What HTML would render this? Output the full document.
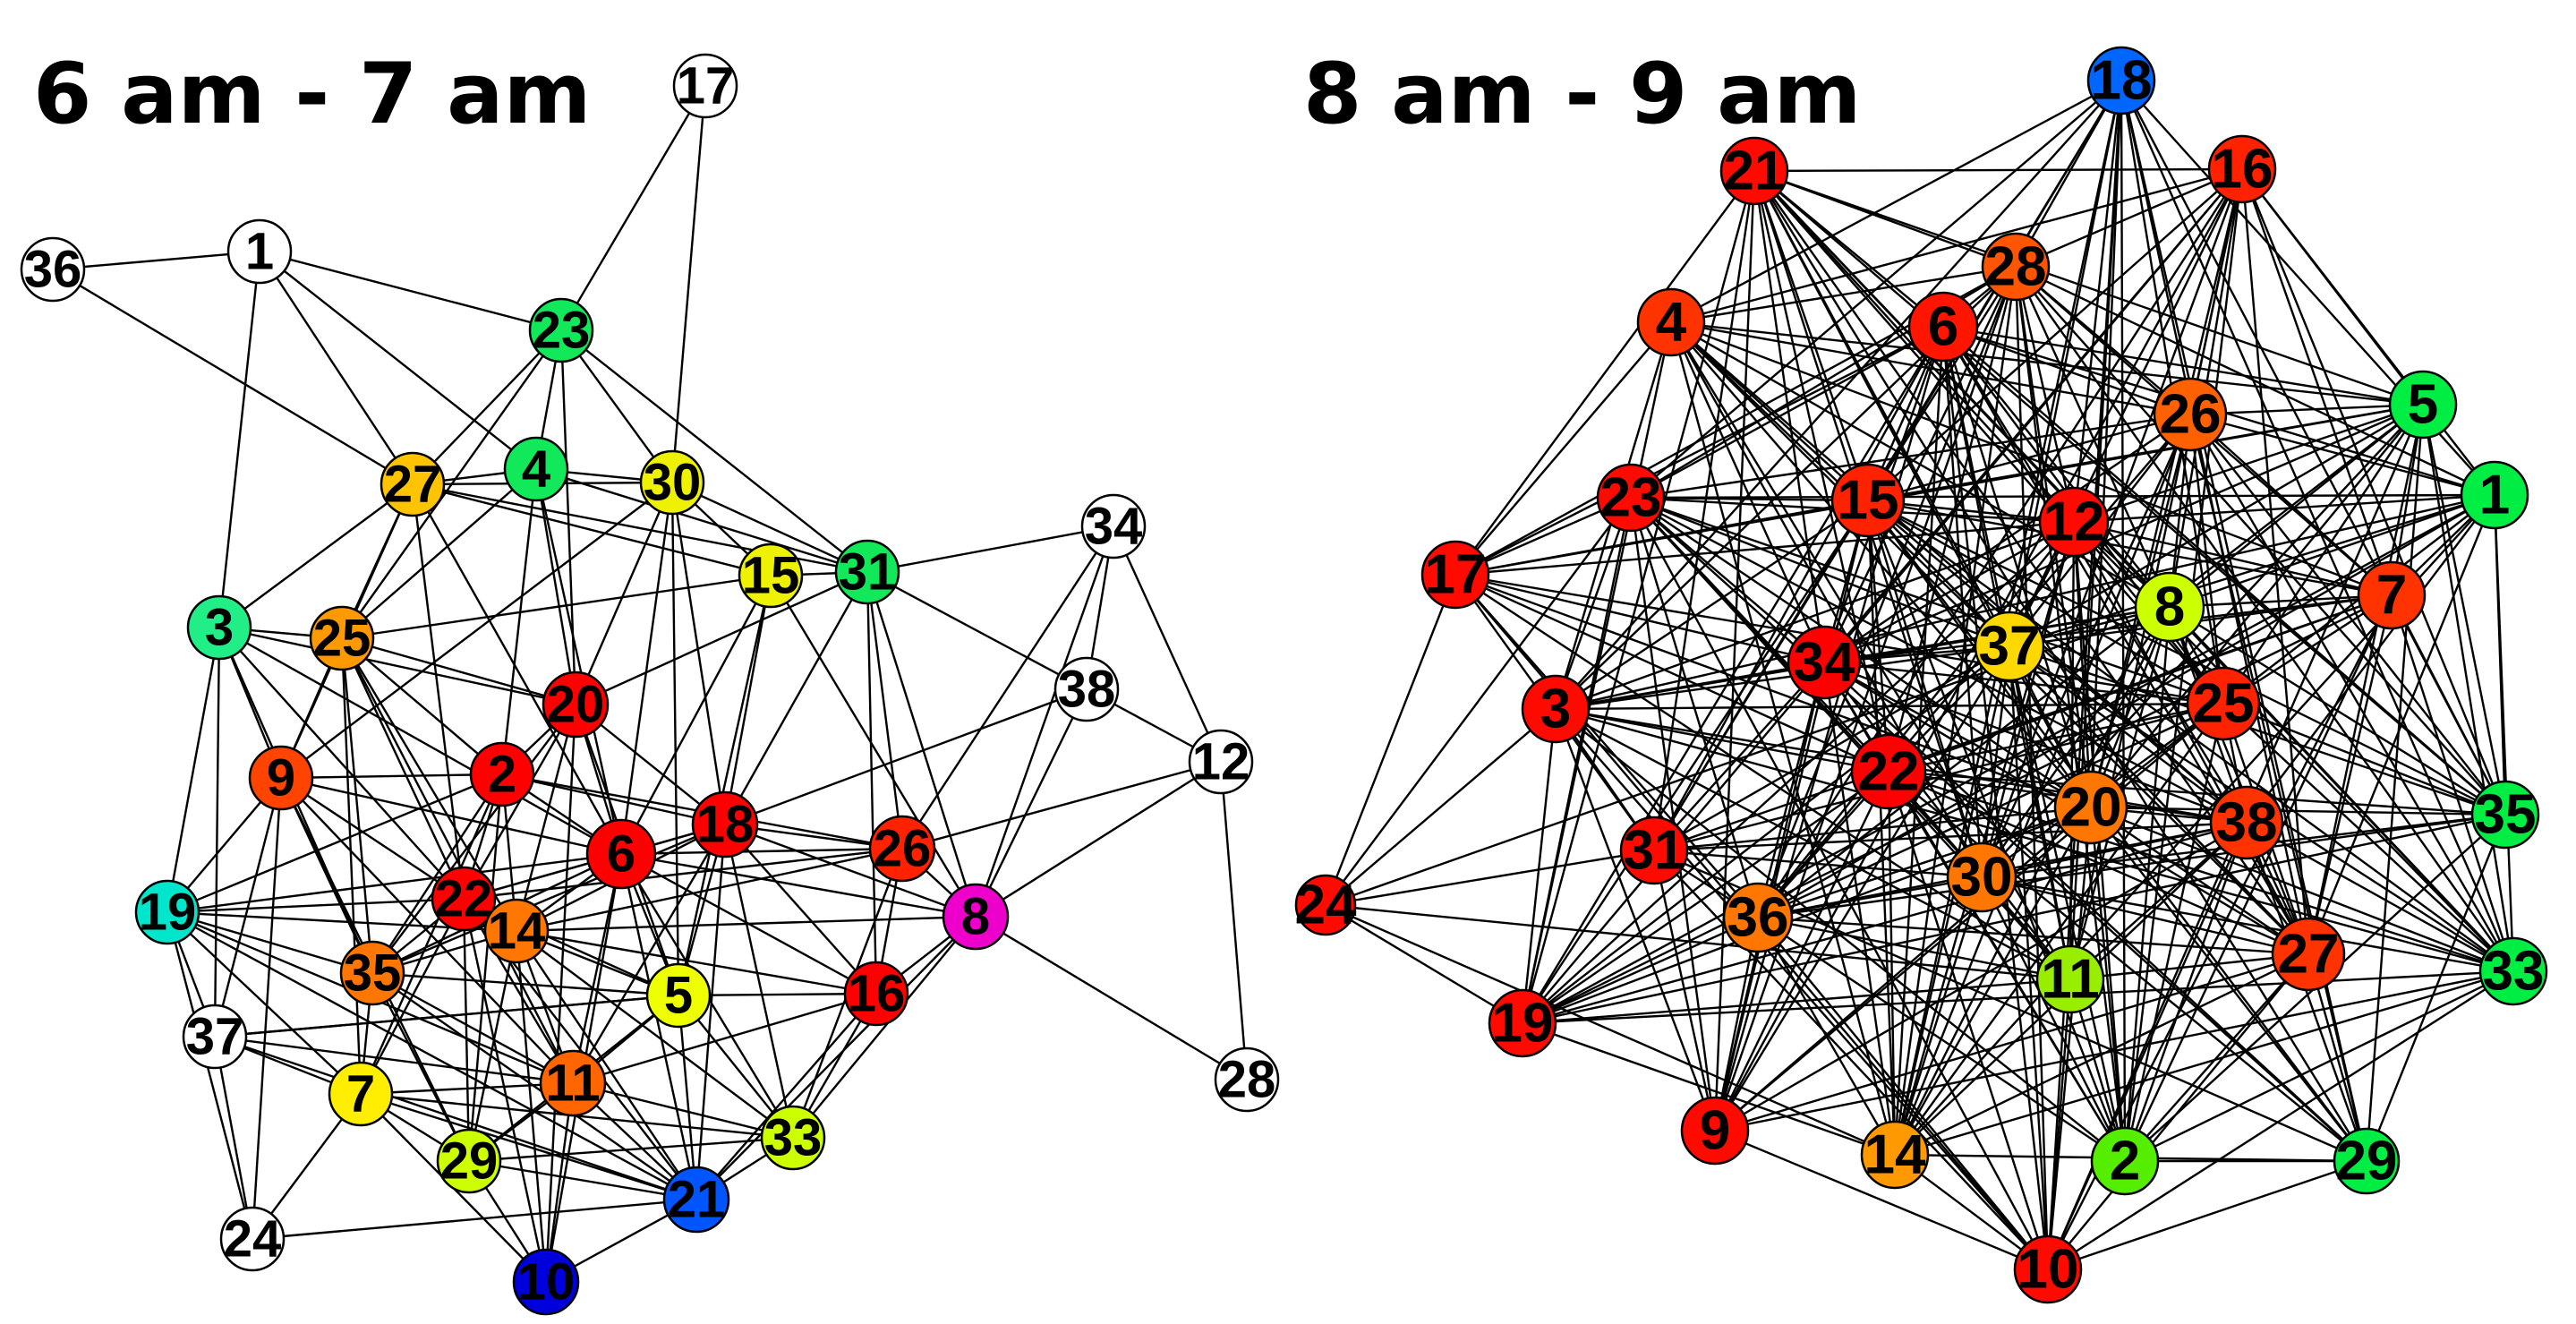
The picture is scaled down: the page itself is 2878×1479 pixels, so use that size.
<!DOCTYPE html>
<html><head><meta charset="utf-8"><style>
html,body{margin:0;padding:0;background:#fff;}
svg{display:block;}
.t{font-family:"DejaVu Sans","Liberation Sans",sans-serif;font-weight:bold;font-size:94px;fill:#000;}
.n text{font-family:"Liberation Sans",sans-serif;font-weight:bold;fill:#000;text-anchor:middle;dominant-baseline:central;}
.L text{font-size:58px;}
.R text{font-size:62px;}
.n circle{stroke:#000;stroke-width:2.5;}
</style></head><body>
<svg id="s" width="2878" height="1479" viewBox="0 0 2878 1479" xmlns="http://www.w3.org/2000/svg">
<rect width="2878" height="1479" fill="#fff"/>
<text class="t" x="37" y="137">6 am - 7 am</text>
<text class="t" x="1456" y="137">8 am - 9 am</text>
<g id="edges" stroke="#000" stroke-width="2.4"></g>
<g class="n L" id="left">
<g transform="translate(788,96)"><circle r="35" fill="#fff"/><text>17</text></g>
<g transform="translate(59,301)"><circle r="35" fill="#fff"/><text>36</text></g>
<g transform="translate(290,281)"><circle r="35" fill="#fff"/><text>1</text></g>
<g transform="translate(627,369)"><circle r="35" fill="#11e85a"/><text>23</text></g>
<g transform="translate(461,541)"><circle r="35" fill="#ffc400"/><text>27</text></g>
<g transform="translate(599,524)"><circle r="35" fill="#11e85a"/><text>4</text></g>
<g transform="translate(751,539)"><circle r="35" fill="#eef200"/><text>30</text></g>
<g transform="translate(861,643)"><circle r="35" fill="#eef200"/><text>15</text></g>
<g transform="translate(969,639)"><circle r="35" fill="#11e85a"/><text>31</text></g>
<g transform="translate(1244,588)"><circle r="35" fill="#fff"/><text>34</text></g>
<g transform="translate(245,701)"><circle r="35" fill="#22ee88"/><text>3</text></g>
<g transform="translate(382,713)"><circle r="35" fill="#ff9900"/><text>25</text></g>
<g transform="translate(1214,770)"><circle r="35" fill="#fff"/><text>38</text></g>
<g transform="translate(643,787)"><circle r="36" fill="#ff0000"/><text>20</text></g>
<g transform="translate(314,869)"><circle r="35" fill="#ff4400"/><text>9</text></g>
<g transform="translate(561,865)"><circle r="35" fill="#ff0000"/><text>2</text></g>
<g transform="translate(1364,851)"><circle r="35" fill="#fff"/><text>12</text></g>
<g transform="translate(810,921)"><circle r="36" fill="#ff0000"/><text>18</text></g>
<g transform="translate(694,954)"><circle r="38" fill="#ff0000"/><text>6</text></g>
<g transform="translate(1008,948)"><circle r="36" fill="#ff2200"/><text>26</text></g>
<g transform="translate(1090,1024)"><circle r="36" fill="#ee00cc"/><text>8</text></g>
<g transform="translate(187,1019)"><circle r="35" fill="#00e6cc"/><text>19</text></g>
<g transform="translate(518,1004)"><circle r="35" fill="#ff0000"/><text>22</text></g>
<g transform="translate(577,1040)"><circle r="35" fill="#ff7700"/><text>14</text></g>
<g transform="translate(416,1087)"><circle r="35" fill="#ff7700"/><text>35</text></g>
<g transform="translate(758,1112)"><circle r="35" fill="#eeff00"/><text>5</text></g>
<g transform="translate(979,1110)"><circle r="35" fill="#ff0000"/><text>16</text></g>
<g transform="translate(240,1158)"><circle r="35" fill="#fff"/><text>37</text></g>
<g transform="translate(1393,1206)"><circle r="35" fill="#fff"/><text>28</text></g>
<g transform="translate(403,1222)"><circle r="35" fill="#ffee00"/><text>7</text></g>
<g transform="translate(640,1210)"><circle r="36" fill="#ff6600"/><text>11</text></g>
<g transform="translate(886,1271)"><circle r="35" fill="#ccff00"/><text>33</text></g>
<g transform="translate(524,1297)"><circle r="35" fill="#ccff00"/><text>29</text></g>
<g transform="translate(778,1340)"><circle r="36" fill="#0055ff"/><text>21</text></g>
<g transform="translate(282,1384)"><circle r="35" fill="#fff"/><text>24</text></g>
<g transform="translate(610,1432)"><circle r="36" fill="#0000dd"/><text>10</text></g>
</g>
<g class="n R" id="right">
<g transform="translate(2370,90)"><circle r="37" fill="#0066ff"/><text>18</text></g>
<g transform="translate(1960,191)"><circle r="37" fill="#ff0a00"/><text>21</text></g>
<g transform="translate(2505,189)"><circle r="37" fill="#ff2200"/><text>16</text></g>
<g transform="translate(2252,298)"><circle r="37" fill="#ff5500"/><text>28</text></g>
<g transform="translate(1867,360)"><circle r="37" fill="#ff3300"/><text>4</text></g>
<g transform="translate(2171,365)"><circle r="38" fill="#ff1500"/><text>6</text></g>
<g transform="translate(2447,463)"><circle r="40" fill="#ff6000"/><text>26</text></g>
<g transform="translate(2707,452)"><circle r="37" fill="#00ee44"/><text>5</text></g>
<g transform="translate(2787,553)"><circle r="37" fill="#00ee44"/><text>1</text></g>
<g transform="translate(1822,556)"><circle r="37" fill="#ff0a00"/><text>23</text></g>
<g transform="translate(2087,559)"><circle r="40" fill="#ff2200"/><text>15</text></g>
<g transform="translate(2317,583)"><circle r="38" fill="#ff0a00"/><text>12</text></g>
<g transform="translate(1626,642)"><circle r="37" fill="#ff0a00"/><text>17</text></g>
<g transform="translate(2672,665)"><circle r="37" fill="#ff3300"/><text>7</text></g>
<g transform="translate(2424,678)"><circle r="38" fill="#ccff00"/><text>8</text></g>
<g transform="translate(2245,722)"><circle r="38" fill="#ffd800"/><text>37</text></g>
<g transform="translate(2038,740)"><circle r="40" fill="#ff0000"/><text>34</text></g>
<g transform="translate(1738,792)"><circle r="37" fill="#ff0a00"/><text>3</text></g>
<g transform="translate(2484,786)"><circle r="40" fill="#ff2200"/><text>25</text></g>
<g transform="translate(2110,862)"><circle r="41" fill="#ff0000"/><text>22</text></g>
<g transform="translate(2336,902)"><circle r="40" fill="#ff7700"/><text>20</text></g>
<g transform="translate(2510,919)"><circle r="40" fill="#ff3300"/><text>38</text></g>
<g transform="translate(2799,910)"><circle r="37" fill="#00ee44"/><text>35</text></g>
<g transform="translate(1848,950)"><circle r="37" fill="#ff0a00"/><text>31</text></g>
<g transform="translate(2214,980)"><circle r="38" fill="#ff7700"/><text>30</text></g>
<g transform="translate(1481,1011)"><circle r="33" fill="#ff0a00"/><text>24</text></g>
<g transform="translate(1964,1025)"><circle r="38" fill="#ff7700"/><text>36</text></g>
<g transform="translate(2579,1066)"><circle r="40" fill="#ff3300"/><text>27</text></g>
<g transform="translate(2313,1094)"><circle r="37" fill="#99ee00"/><text>11</text></g>
<g transform="translate(2808,1085)"><circle r="37" fill="#00ee44"/><text>33</text></g>
<g transform="translate(1701,1143)"><circle r="37" fill="#ff0a00"/><text>19</text></g>
<g transform="translate(1916,1263)"><circle r="37" fill="#ff0a00"/><text>9</text></g>
<g transform="translate(2117,1290)"><circle r="37" fill="#ff9900"/><text>14</text></g>
<g transform="translate(2374,1297)"><circle r="37" fill="#55ee00"/><text>2</text></g>
<g transform="translate(2644,1297)"><circle r="36" fill="#00ee44"/><text>29</text></g>
<g transform="translate(2288,1418)"><circle r="37" fill="#ff0a00"/><text>10</text></g>
</g>
</svg>
<script>
(function(){
function pos(id){
  var g=document.getElementById(id).children,m={};
  for(var i=0;i<g.length;i++){
    var t=g[i].getAttribute('transform').match(/translate\(([\d.]+),([\d.]+)\)/);
    m[g[i].querySelector('text').textContent]=[+t[1],+t[2]];
  }
  return m;
}
var L=pos('left'),R=pos('right'),E=document.getElementById('edges'),NS='http://www.w3.org/2000/svg';
function line(a,b){
  var l=document.createElementNS(NS,'line');
  l.setAttribute('x1',a[0]);l.setAttribute('y1',a[1]);
  l.setAttribute('x2',b[0]);l.setAttribute('y2',b[1]);
  E.appendChild(l);
}
var le="36-1 36-27 1-23 1-27 1-3 1-4 17-23 17-30 23-27 23-4 23-30 23-31 23-25 23-20 27-4 27-30 27-15 27-31 27-25 27-3 27-9 27-22 27-6 4-30 4-31 4-20 4-6 4-25 4-2 30-15 30-31 30-20 30-18 30-5 30-6 30-9 15-31 15-25 15-18 15-5 15-8 15-6 31-34 31-38 31-26 31-8 31-16 31-20 31-18 34-38 34-12 34-26 34-8 38-12 38-18 38-8 12-26 12-8 12-28 8-28 8-26 8-16 8-18 8-6 8-14 8-33 8-21 26-18 26-6 26-16 26-33 26-22 26-14 3-25 3-9 3-19 3-37 3-20 3-22 3-35 3-6 25-9 25-20 25-2 25-35 25-22 25-14 25-7 25-11 20-2 20-6 20-18 20-22 20-14 20-5 20-10 20-35 9-19 9-2 9-22 9-35 9-6 9-24 9-37 9-11 9-29 2-6 2-18 2-22 2-14 2-35 2-7 2-29 2-26 18-6 18-5 18-16 18-14 18-22 18-33 18-21 18-35 18-11 6-5 6-16 6-14 6-22 6-21 6-11 6-10 6-35 6-33 19-37 19-35 19-22 19-14 19-6 19-7 19-24 19-11 19-21 19-2 22-14 22-35 22-7 22-29 22-11 22-10 22-21 22-5 14-35 14-5 14-11 14-29 14-10 14-21 14-33 14-16 35-7 35-29 35-11 35-21 35-5 5-16 5-11 5-33 5-21 5-29 5-37 16-33 16-21 16-11 37-7 37-24 37-5 37-11 37-21 7-29 7-11 7-24 7-10 7-33 7-21 11-29 11-21 11-10 11-33 29-21 29-10 29-33 21-10 21-33 21-24".split(' ');
le.forEach(function(p){var s=p.split('-');if(L[s[0]]&&L[s[1]])line(L[s[0]],L[s[1]]);});
var seed=12345;function rnd(){seed=(seed*1103515245+12345)%2147483648;return seed/2147483648;}
var ks=Object.keys(R);
var hub={"22":1,"34":1,"37":1,"20":1,"12":1,"25":1,"30":1,"15":1,"6":1,"36":1,"8":1,"38":1};
for(var i=0;i<ks.length;i++)for(var j=i+1;j<ks.length;j++){
  var a=R[ks[i]],b=R[ks[j]],d=Math.hypot(a[0]-b[0],a[1]-b[1]);
  var p=d<500?0.68:(d<850?0.56:0.34);
  if(hub[ks[i]]||hub[ks[j]])p+=0.15;
  if(ks[i]=="24"||ks[j]=="24")p=d<450?0.7:0.12;
  if(ks[i]=="18"||ks[j]=="18")p=0.35;
  if(rnd()<p)line(a,b);
}
})();
</script>
</body></html>
